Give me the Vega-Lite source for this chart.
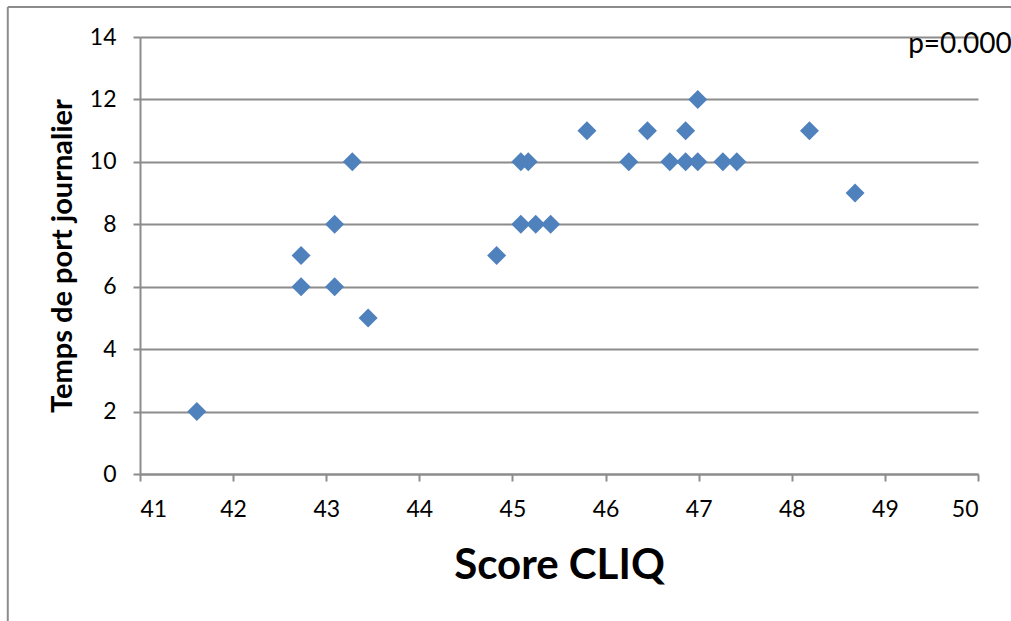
{
  "$schema": "https://vega.github.io/schema/vega-lite/v6.json",
  "width": 838,
  "height": 437,
  "autosize": {"type": "none"},
  "padding": {"left": 140, "top": 37, "right": 33, "bottom": 147},
  "background": "white",
  "config": {"view": {"stroke": null}, "font": "Lato"},
  "datasets": {
    "pts": [
      {"score": 41.61, "temps": 2},
      {"score": 42.73, "temps": 7},
      {"score": 42.73, "temps": 6},
      {"score": 43.09, "temps": 8},
      {"score": 43.09, "temps": 6},
      {"score": 43.28, "temps": 10},
      {"score": 43.45, "temps": 5},
      {"score": 44.83, "temps": 7},
      {"score": 45.09, "temps": 10},
      {"score": 45.17, "temps": 10},
      {"score": 45.09, "temps": 8},
      {"score": 45.25, "temps": 8},
      {"score": 45.41, "temps": 8},
      {"score": 45.80, "temps": 11},
      {"score": 46.25, "temps": 10},
      {"score": 46.45, "temps": 11},
      {"score": 46.69, "temps": 10},
      {"score": 46.86, "temps": 11},
      {"score": 46.86, "temps": 10},
      {"score": 46.99, "temps": 12},
      {"score": 46.99, "temps": 10},
      {"score": 47.26, "temps": 10},
      {"score": 47.41, "temps": 10},
      {"score": 48.19, "temps": 11},
      {"score": 48.68, "temps": 9}
    ],
    "frame": [
      {"x": 39.58, "x2": 39.58, "y": 14.96, "y2": -4.8},
      {"x": 39.58, "x2": 50.5, "y": 14.96, "y2": 14.96}
    ],
    "label": [{"x": 49.25, "y": 13.74, "t": "p=0.000"}]
  },
  "layer": [
    {
      "data": {"name": "frame"},
      "mark": {"type": "rule", "color": "#8c8c8c", "strokeWidth": 2, "clip": false},
      "encoding": {
        "x": {"field": "x", "type": "quantitative", "scale": {"domain": [41, 50], "nice": false, "zero": false}},
        "x2": {"field": "x2"},
        "y": {"field": "y", "type": "quantitative", "scale": {"domain": [0, 14], "nice": false, "zero": false}},
        "y2": {"field": "y2"}
      }
    },
    {
      "data": {"name": "pts"},
      "mark": {"type": "point", "shape": "diamond", "filled": true, "size": 360, "color": "#4f81bd", "opacity": 1},
      "encoding": {
        "x": {
          "field": "score", "type": "quantitative",
          "scale": {"domain": [41, 50], "nice": false, "zero": false},
          "axis": {
            "title": "Score CLIQ", "values": [41, 42, 43, 44, 45, 46, 47, 48, 49, 50], "format": "d",
            "grid": false, "domainColor": "#8c8c8c", "domainWidth": 2,
            "tickColor": "#8c8c8c", "tickWidth": 2, "tickSize": 7,
            "labelFontSize": 23, "labelColor": "#000", "labelPadding": 17, "labelFont": "Lato",
            "titleFontSize": 42, "titleFontWeight": "bold", "titleColor": "#000", "titlePadding": 24, "titleFont": "Lato"
          }
        },
        "y": {
          "field": "temps", "type": "quantitative",
          "scale": {"domain": [0, 14], "nice": false, "zero": false},
          "axis": {
            "title": "Temps de port journalier", "values": [0, 2, 4, 6, 8, 10, 12, 14], "format": "d",
            "grid": true, "gridColor": "#8c8c8c", "gridWidth": 2,
            "domainColor": "#8c8c8c", "domainWidth": 2,
            "tickColor": "#8c8c8c", "tickWidth": 2, "tickSize": 7,
            "labelFontSize": 23, "labelColor": "#000", "labelPadding": 17, "labelFont": "Lato",
            "titleFontSize": 29, "titleFontWeight": "bold", "titleColor": "#000", "titlePadding": 12, "titleFont": "Lato"
          }
        }
      }
    },
    {
      "data": {"name": "label"},
      "mark": {"type": "text", "align": "left", "baseline": "middle", "fontSize": 28, "font": "Lato", "color": "#000", "clip": false},
      "encoding": {
        "x": {"field": "x", "type": "quantitative"},
        "y": {"field": "y", "type": "quantitative"},
        "text": {"field": "t"}
      }
    }
  ]
}
